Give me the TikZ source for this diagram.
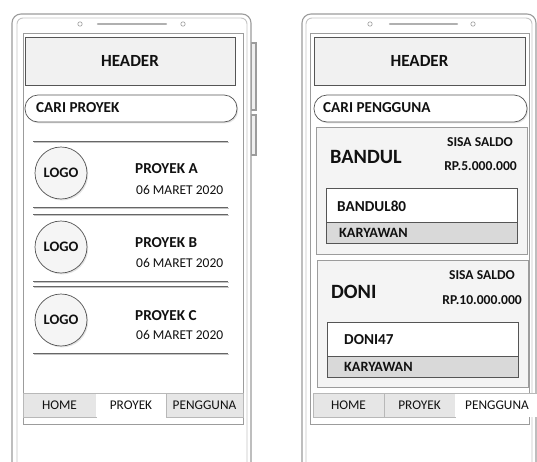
\documentclass[tikz,border=0pt]{standalone}
\usepackage{fontspec}
\setmainfont{Carlito}
\usetikzlibrary{shadows}
\definecolor{framegray}{HTML}{9C9C9C}
\definecolor{framelight}{HTML}{C4C4C4}
\definecolor{boxline}{HTML}{555555}
\definecolor{headfill}{HTML}{F1F1F1}
\definecolor{cardfill}{HTML}{F4F4F4}
\definecolor{rolefill}{HTML}{D9D9D9}
\definecolor{tabfill}{HTML}{E6E6E6}
\definecolor{tabline}{HTML}{B8B8B8}
\definecolor{ink}{HTML}{111111}
\tikzset{
  softshadow/.style={drop shadow={opacity=0.22, shadow xshift=1.2pt, shadow yshift=-1.4pt}},
  frameout/.style={draw=framegray, line width=1.1pt},
  framein/.style={draw=framelight, line width=0.9pt},
  screen/.style={draw=framegray, line width=1pt, fill=white, softshadow},
  headerbox/.style={draw=boxline, line width=0.7pt, fill=headfill, softshadow},
  pill/.style={draw=boxline, line width=0.7pt, fill=white, rounded corners=13pt, softshadow},
  logo/.style={circle, draw=boxline, line width=0.7pt, fill=headfill!70, minimum size=52pt, inner sep=0pt, softshadow},
  card/.style={draw=framegray, line width=0.8pt, fill=cardfill, softshadow},
  namebox/.style={draw=boxline, line width=0.7pt, fill=white},
  rolebox/.style={draw=boxline, line width=0.7pt, fill=rolefill},
  tabgray/.style={draw=tabline, line width=0.5pt, fill=tabfill},
  tabon/.style={fill=white},
  sepline/.style={draw=boxline!90, line width=0.9pt},
  sepshade/.style={draw=framelight, line width=1pt},
  txt/.style={inner sep=0pt, text=ink},
  bhead/.style={txt, font=\bfseries\fontsize{17}{20}\selectfont},
  bmid/.style={txt, font=\bfseries\fontsize{15.2}{18}\selectfont},
  blogo/.style={txt, font=\bfseries\fontsize{14.5}{17}\selectfont},
  bsmall/.style={txt, font=\bfseries\fontsize{13.6}{16}\selectfont},
  brole/.style={txt, font=\bfseries\fontsize{14.2}{17}\selectfont},
  bbig/.style={txt, font=\bfseries\fontsize{20.3}{24}\selectfont},
  rtxt/.style={txt, font=\fontsize{13.5}{16}\selectfont},
  tabtxt/.style={txt, font=\fontsize{13.3}{16}\selectfont},
  speaker/.style={draw=framegray!80, line width=2.4pt, line cap=round},
  cam/.style={draw=framegray, line width=0.6pt},
}
\begin{document}
\begin{tikzpicture}[x=1pt, y=-1pt]
\useasboundingbox (0,0) rectangle (537,461);
\clip (0,0) rectangle (537,461);
\fill[white] (0,0) rectangle (537,461);

% ---------- left phone: body ----------
\draw[frameout, fill=framelight!25] (251,43) rectangle (256,110);
\draw[frameout, fill=framelight!25] (251,115) rectangle (256,155);
\draw[frameout, fill=white, rounded corners=9pt] (12,480) -- (12,14) -- (251,14) -- (251,480);
\draw[framein, rounded corners=6pt] (17,480) -- (17,18) -- (247,18) -- (247,480);
\draw[speaker] (98,24) -- (166,24);
\draw[cam] (80,24) circle (2.2pt);
\draw[cam] (183,24) circle (2.2pt);
\draw[screen] (23,33) rectangle (243,424);

% header and search
\draw[headerbox] (25,37) rectangle (235,85);
\node[bhead] (hA) at (130,61) {HEADER};
\draw[pill] (25,95) rectangle (237,122);
\node[bmid, anchor=west] (sA) at (36,108) {CARI PROYEK};

% project list separators
\foreach \yy in {141,207,214,281,286,353} {
  \draw[sepshade] (34,\yy+1.6) -- (229,\yy+1.6);
  \draw[sepline] (33,\yy) -- (228,\yy);
}

% project rows
\node[logo] (lA) at (61,173) {};
\node[blogo] at (lA) {LOGO};
\node[bmid, anchor=west] (pA) at (135,169) {PROYEK A};
\node[rtxt, anchor=west] (dA) at (136,190) {06 MARET 2020};

\node[logo] (lB) at (61,247) {};
\node[blogo] at (lB) {LOGO};
\node[bmid, anchor=west] (pB) at (135,243) {PROYEK B};
\node[rtxt, anchor=west] (dB) at (136,263) {06 MARET 2020};

\node[logo] (lC) at (61,320) {};
\node[blogo] at (lC) {LOGO};
\node[bmid, anchor=west] (pC) at (135,316) {PROYEK C};
\node[rtxt, anchor=west] (dC) at (136,335) {06 MARET 2020};

% tab bar
\draw[tabgray] (23,393) rectangle (96,417);
\fill[tabon] (96,393) rectangle (166,417);
\draw[tabline, line width=0.5pt] (96,393) -- (166,393);
\draw[tabgray] (166,393) rectangle (243,417);
\node[tabtxt] (tA1) at (59.5,405) {HOME};
\node[tabtxt] (tA2) at (131,405) {PROYEK};
\node[tabtxt] (tA3) at (204.5,405) {PENGGUNA};

% ---------- right phone: body ----------
\draw[frameout, fill=white, rounded corners=9pt] (302,480) -- (302,14) -- (536,14) -- (536,480);
\draw[framein, rounded corners=6pt] (306,480) -- (306,18) -- (532,18) -- (532,480);
\draw[speaker] (390,24) -- (457,24);
\draw[cam] (370,24) circle (2.2pt);
\draw[cam] (473,24) circle (2.2pt);
\draw[screen] (310,33) rectangle (529,424);

% header and search
\draw[headerbox] (314,37) rectangle (525,85);
\node[bhead] (hB) at (419.5,61) {HEADER};
\draw[pill] (314,95) rectangle (527,122);
\node[bmid, anchor=west] (sB) at (323,108) {CARI PENGGUNA};

% first user card
\draw[card] (316,127) rectangle (527,254);
\node[bbig, anchor=west] (u1) at (330,157) {BANDUL};
\node[bsmall, anchor=east] (k1) at (513,142) {SISA SALDO};
\node[bsmall, anchor=east] (v1) at (517,166) {RP.5.000.000};
\draw[namebox] (326,188) rectangle (517,222);
\draw[rolebox] (326,222) rectangle (517,243);
\node[bmid, anchor=west] (n1) at (337,206) {BANDUL80};
\node[brole, anchor=west] (r1) at (339,232.5) {KARYAWAN};

% second user card
\draw[card] (317,260) rectangle (528,387);
\node[bbig, anchor=west] (u2) at (331,292) {DONI};
\node[bsmall, anchor=east] (k2) at (515,275) {SISA SALDO};
\node[bsmall, anchor=east] (v2) at (522,300) {RP.10.000.000};
\draw[namebox] (327,322) rectangle (518,356);
\draw[rolebox] (327,356) rectangle (518,377);
\node[bmid, anchor=west] (n2) at (344,340) {DONI47};
\node[brole, anchor=west] (r2) at (344,366.5) {KARYAWAN};

% tab bar
\draw[tabgray] (313,393) rectangle (384,417);
\draw[tabgray] (384,393) rectangle (455,417);
\fill[tabon] (455,393) rectangle (540,417);
\draw[tabline, line width=0.5pt] (455,393) -- (540,393);
\node[tabtxt] (tB1) at (348.5,405) {HOME};
\node[tabtxt] (tB2) at (419.5,405) {PROYEK};
\node[tabtxt] (tB3) at (497,405) {PENGGUNA};
\end{tikzpicture}
\end{document}
